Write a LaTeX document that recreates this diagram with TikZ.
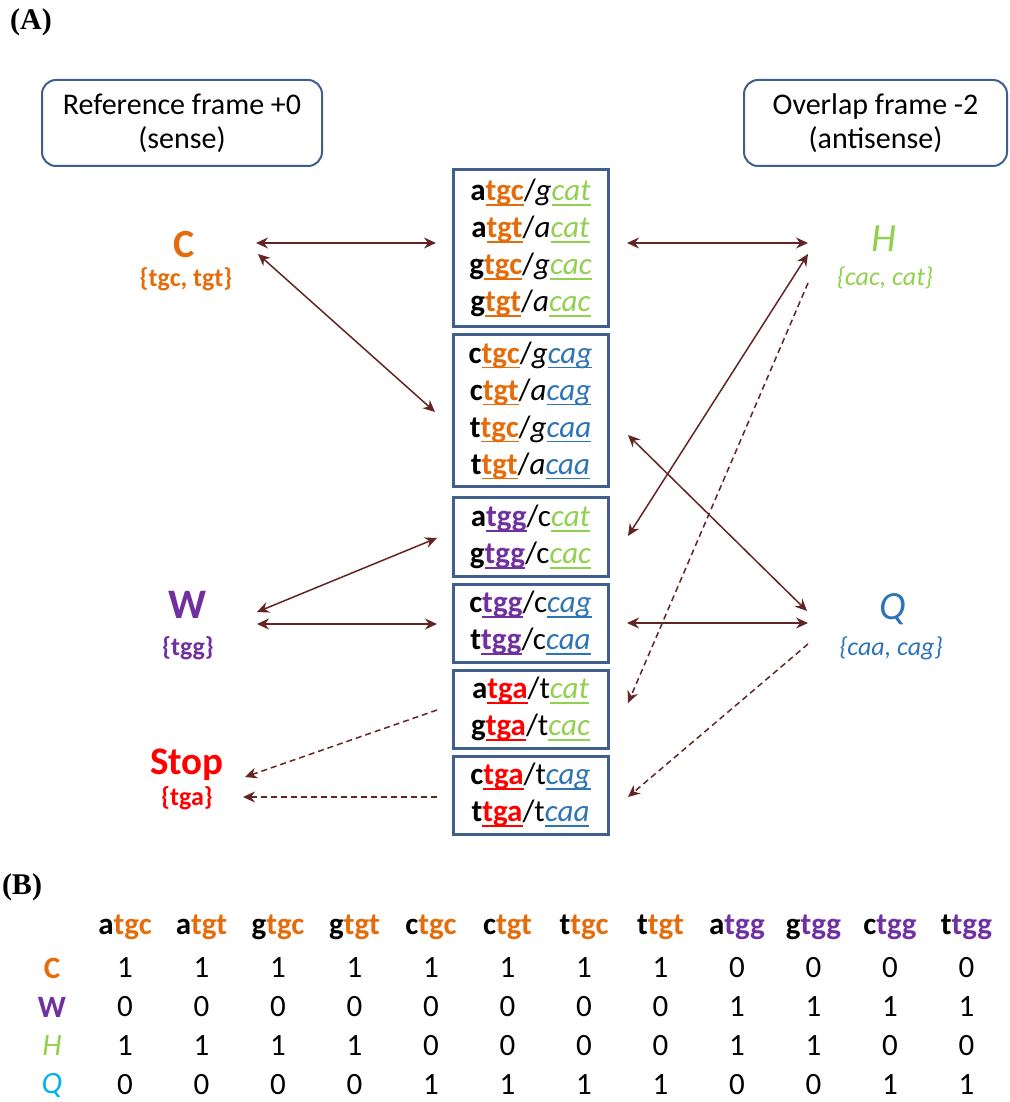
\documentclass[tikz,border=0pt]{standalone}
\usepackage{fontspec}
\setmainfont{Carlito}
\newfontfamily\tnr{Liberation Serif}
\usetikzlibrary{arrows.meta}
\definecolor{cor}{HTML}{E46C0A}
\definecolor{cgr}{HTML}{92D050}
\definecolor{cbl}{HTML}{2E75B6}
\definecolor{cpu}{HTML}{7030A0}
\definecolor{cre}{HTML}{FF0000}
\definecolor{carr}{HTML}{632523}
\definecolor{cbox}{HTML}{3F5F8C}
\definecolor{ccy}{HTML}{00B0F0}
\newcommand\ulc[1]{\setbox0=\hbox{#1}\rlap{\rule[-0.17em]{\wd0}{0.06em}}\box0}
\newcommand\cdl[6]{\textbf{#1}{\color{#3}\ulc{\textbf{#2}}}/#4{\color{#6}\ulc{\textit{#5}}}}
\newcommand\fs[2]{\fontsize{#1}{#2}\selectfont}
\tikzset{
  framebox/.style={draw=cbox, line width=2pt, rounded corners=14pt, minimum height=86pt, align=center, font=\fs{30}{34}, inner sep=0pt},
  codonbox/.style={draw=cbox, line width=3pt, minimum width=155pt, align=center, font=\fs{31}{37}, inner sep=0pt},
  arr/.style={draw=carr, line width=1.5pt, -{Stealth[length=12pt,width=11pt,inset=4pt]}},
  darr/.style={arr, dash pattern=on 6pt off 4pt},
  barr/.style={draw=carr, line width=1.5pt, {Stealth[length=12pt,width=11pt,inset=4pt]}-{Stealth[length=12pt,width=11pt,inset=4pt]}},
  cell/.style={font=\fs{31}{34}, inner sep=0pt}
}
\begin{document}
\begin{tikzpicture}[x=1pt,y=-1pt]
\useasboundingbox (0,0) rectangle (1009,1102);
% panel labels
\node[font=\tnr\bfseries\fs{30}{32}] (pA) at (31,22) {(A)};
\node[font=\tnr\bfseries\fs{30}{32}] (pB) at (22,887) {(B)};
% frame boxes
\node[framebox, minimum width=280pt] (fref) at (182,123) {Reference frame +0\\(sense)};
\node[framebox, minimum width=263pt] (fover) at (875.5,123) {Overlap frame -2\\(antisense)};
% amino acid labels
\node[font=\fs{40}{44}\bfseries, text=cor] (lC) at (184,245) {C};
\node[text=cor, font=\fs{26}{30}\bfseries] (sC) at (186,279) {\{tgc, tgt\}};
\node[font=\fs{40}{44}\itshape, text=cgr] (lH) at (884,239) {H};
\node[text=cgr, font=\fs{26}{30}\itshape] (sH) at (885,278) {\{cac, cat\}};
\node[font=\fs{42}{46}\bfseries, text=cpu] (lW) at (188,605) {W};
\node[text=cpu, font=\fs{26}{30}\bfseries] (sW) at (188,648) {\{tgg\}};
\node[font=\fs{39}{44}\bfseries, text=cre] (lS) at (187,765) {Stop};
\node[text=cre, font=\fs{26}{30}\bfseries] (sS) at (187,798) {\{tga\}};
\node[font=\fs{40}{44}\itshape, text=cbl] (lQ) at (893,609) {Q};
\node[text=cbl, font=\fs{26}{30}\itshape] (sQ) at (891,648) {\{caa, cag\}};
% codon boxes
\node[codonbox, minimum height=156pt] (b1) at (530.5,248) {%
\cdl{a}{tgc}{cor}{\textit{g}}{cat}{cgr}\\
\cdl{a}{tgt}{cor}{\textit{a}}{cat}{cgr}\\
\cdl{g}{tgc}{cor}{\textit{g}}{cac}{cgr}\\
\cdl{g}{tgt}{cor}{\textit{a}}{cac}{cgr}};
\node[codonbox, minimum height=152pt] (b2) at (530.5,410.5) {%
\cdl{c}{tgc}{cor}{\textit{g}}{cag}{cbl}\\
\cdl{c}{tgt}{cor}{\textit{a}}{cag}{cbl}\\
\cdl{t}{tgc}{cor}{\textit{g}}{caa}{cbl}\\
\cdl{t}{tgt}{cor}{\textit{a}}{caa}{cbl}};
\node[codonbox, minimum height=79pt] (b3) at (530.5,537) {%
\cdl{a}{tgg}{cpu}{c}{cat}{cgr}\\
\cdl{g}{tgg}{cpu}{c}{cac}{cgr}};
\node[codonbox, minimum height=78pt] (b4) at (530.5,623) {%
\cdl{c}{tgg}{cpu}{c}{cag}{cbl}\\
\cdl{t}{tgg}{cpu}{c}{caa}{cbl}};
\node[codonbox, minimum height=78pt] (b5) at (530.5,709) {%
\cdl{a}{tga}{cre}{t}{cat}{cgr}\\
\cdl{g}{tga}{cre}{t}{cac}{cgr}};
\node[codonbox, minimum height=78pt] (b6) at (530.5,795) {%
\cdl{c}{tga}{cre}{t}{cag}{cbl}\\
\cdl{t}{tga}{cre}{t}{caa}{cbl}};
% connector end points
\coordinate (C1) at (256,243); \coordinate (B1L) at (436,243);
\coordinate (C2) at (258,254); \coordinate (B2L) at (435,412);
\coordinate (B1R) at (627,243); \coordinate (H1) at (808,243);
\coordinate (H2) at (808,254); \coordinate (B3R) at (628,536);
\coordinate (H3) at (808,283); \coordinate (B5R) at (628,703);
\coordinate (B2R) at (628,435); \coordinate (Q1) at (807,611);
\coordinate (B4R) at (627,623); \coordinate (Q2) at (808,623);
\coordinate (Q3) at (808,644); \coordinate (B6R) at (628,797);
\coordinate (W1) at (257,612); \coordinate (B3L) at (437,538);
\coordinate (W2) at (257,624); \coordinate (B4L) at (437,624);
\coordinate (B5L) at (437,710); \coordinate (S1) at (245,777);
\coordinate (B6L) at (437,797); \coordinate (S2) at (243,797);
% connectors
\draw[barr] (C1) -- (B1L);
\draw[barr] (C2) -- (B2L);
\draw[barr] (B1R) -- (H1);
\draw[barr] (H2) -- (B3R);
\draw[darr] (H3) -- (B5R);
\draw[barr] (B2R) -- (Q1);
\draw[barr] (B4R) -- (Q2);
\draw[darr] (Q3) -- (B6R);
\draw[barr] (W1) -- (B3L);
\draw[barr] (W2) -- (B4L);
\draw[darr] (B5L) -- (S1);
\draw[darr] (B6L) -- (S2);
% table (B): header
\foreach \f/\r/\cl [count=\i from 0] in {a/tgc/cor,a/tgt/cor,g/tgc/cor,g/tgt/cor,c/tgc/cor,c/tgt/cor,t/tgc/cor,t/tgt/cor,a/tgg/cpu,g/tgg/cpu,c/tgg/cpu,t/tgg/cpu}{
  \node[cell, font=\fs{31}{34}\bfseries] (th\i) at (125+76.5*\i,927) {\f\textcolor{\cl}{\r}};
}
% row labels
\node[cell, font=\fs{31}{34}\bfseries, text=cor] (rC) at (52,968) {C};
\node[cell, font=\fs{31}{34}\bfseries, text=cpu] (rW) at (52,1007) {W};
\node[cell, font=\fs{31}{34}\itshape, text=cgr] (rH) at (52,1046) {H};
\node[cell, font=\fs{31}{34}\itshape, text=ccy] (rQ) at (52,1085) {Q};
% values
\foreach \v [count=\i from 0] in {1,1,1,1,1,1,1,1,0,0,0,0}{\node[cell] (vC\i) at (125+76.5*\i,968) {\v};}
\foreach \v [count=\i from 0] in {0,0,0,0,0,0,0,0,1,1,1,1}{\node[cell] (vW\i) at (125+76.5*\i,1007) {\v};}
\foreach \v [count=\i from 0] in {1,1,1,1,0,0,0,0,1,1,0,0}{\node[cell] (vH\i) at (125+76.5*\i,1046) {\v};}
\foreach \v [count=\i from 0] in {0,0,0,0,1,1,1,1,0,0,1,1}{\node[cell] (vQ\i) at (125+76.5*\i,1085) {\v};}
\end{tikzpicture}
\end{document}
